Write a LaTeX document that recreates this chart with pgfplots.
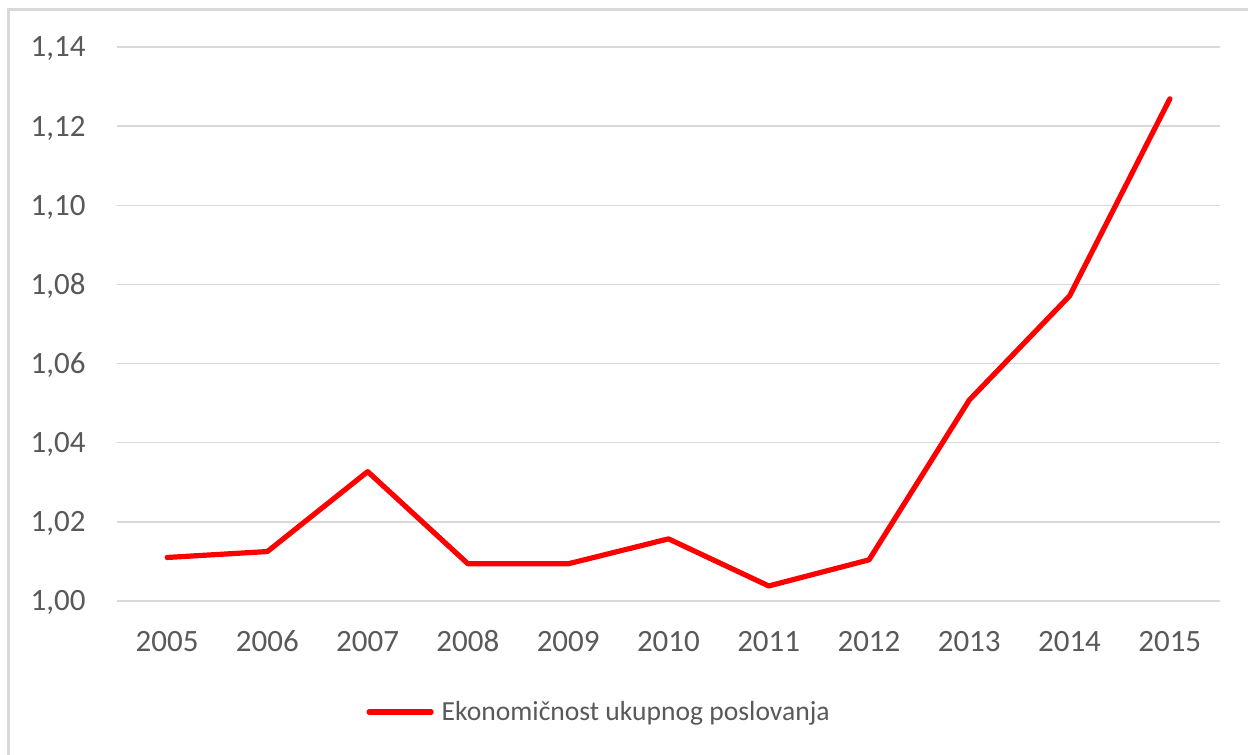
\documentclass[border=0pt]{standalone}
\usepackage{pgfplots}
\pgfplotsset{compat=1.18}
\usepackage{fontspec}
\setmainfont{Carlito}
\definecolor{txt}{HTML}{595959}
\definecolor{grd}{HTML}{D9D9D9}
\definecolor{brd}{HTML}{D9D9D9}
\begin{document}
\begin{tikzpicture}
\useasboundingbox (0pt,0pt) rectangle (624pt,377.5pt);
\fill[white] (0pt,0pt) rectangle (624pt,377.5pt);
\draw[brd, line width=1.4pt] (4.25pt,0pt) -- (4.25pt,372.75pt) -- (624pt,372.75pt);
\begin{axis}[
  at={(58.5pt,77pt)}, anchor=south west,
  scale only axis, width=551.5pt, height=277pt,
  xmin=2004.5, xmax=2015.5, ymin=1, ymax=1.14,
  xtick={2005,...,2015},
  xticklabels={2005,2006,2007,2008,2009,2010,2011,2012,2013,2014,2015},
  ytick={1,1.02,...,1.15},
  ymajorgrids, major grid style={grd, line width=0.75pt},
  axis line style={draw=none},
  tick style={draw=none},
  tick label style={font=\fontsize{15.5}{18}\selectfont, text=txt, inner sep=0pt, text height=10pt, text depth=0pt},
  /pgf/number format/assume math mode=true,
  yticklabel style={/pgf/number format/.cd, fixed, fixed zerofill, precision=2, use comma},
  yticklabel shift=15.5pt,
  xticklabel shift=15pt,
  clip=false,
  legend style={at={(0.438,-0.2004)}, anchor=center, draw=none, fill=none,
    font=\fontsize{13.8}{16}\selectfont, text=txt, inner sep=0pt},
  legend image code/.code={\draw[red, line width=2.6pt, line cap=round] (0pt,0pt) -- (31pt,0pt);},
]
\addplot[red, line width=2.6pt, line join=round, line cap=round] coordinates {
(2005,1.011) (2006,1.0125) (2007,1.0327) (2008,1.0094) (2009,1.0094) (2010,1.0157)
(2011,1.0038) (2012,1.0104) (2013,1.0508) (2014,1.0771) (2015,1.1269)
};
\addlegendentry{\hspace{2pt}Ekonomičnost ukupnog poslovanja}
\end{axis}
\end{tikzpicture}
\end{document}
